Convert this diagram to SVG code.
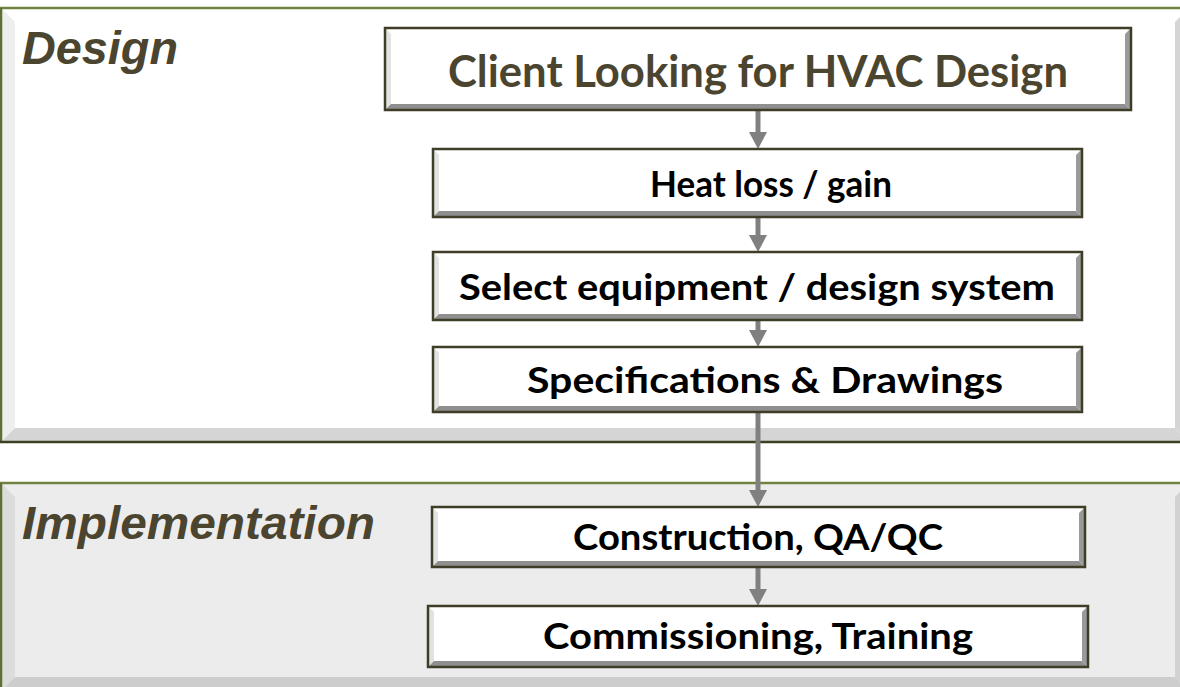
<svg xmlns="http://www.w3.org/2000/svg" width="1180" height="687" viewBox="0 0 1180 687">
  <defs>
    <style>
      .title { font-family: "Liberation Sans", Arial, sans-serif; font-weight: bold; font-style: italic; font-size: 47px; fill: #4b4530; }
      .label { font-family: Lato, "Open Sans", sans-serif; font-weight: bold; font-size: 36px; fill: #000; text-anchor: middle; }
      .label-main { font-family: Lato, "Open Sans", sans-serif; font-weight: bold; font-size: 43px; fill: #4b4530; text-anchor: middle; }
      .box-face { fill: #ffffff; }
      .box-left { fill: #e2e2e2; }
      .box-right { fill: #9a9a9a; }
      .box-bottom { fill: #8f8f8f; }
      .box-border { fill: none; stroke: #3f3c27; stroke-width: 2.5; }
      .conn { stroke: #808080; stroke-width: 5; fill: none; }
    </style>
    <marker id="arrow" markerUnits="userSpaceOnUse" markerWidth="18" markerHeight="18" viewBox="0 0 18 18" refX="0" refY="9" orient="auto">
      <path d="M0,0 L17,9 L0,18 z" fill="#808080"/>
    </marker>
  </defs>

  <rect width="1180" height="687" fill="#ffffff"/>

  <!-- Design phase panel -->
  <g id="panel-design">
    <rect x="1" y="8" width="1190" height="434" fill="#ffffff"/>
    <polygon points="1,8 15,22 15,428 1,442" fill="#eeeeee"/>
    <polygon points="1,442 15,428 1175,428 1189,442" fill="#d5d5d5"/>
    <polygon points="1189,8 1175,22 1175,428 1189,442" fill="#d5d5d5"/>
    <line x1="0" y1="8" x2="1180" y2="8" stroke="#6f8240" stroke-width="2.5"/>
    <line x1="1" y1="8" x2="1" y2="442" stroke="#5f7035" stroke-width="2.5"/>
    <line x1="0" y1="442" x2="1180" y2="442" stroke="#3a4122" stroke-width="2.5"/>
    <text class="title" x="22" y="64" textLength="156" lengthAdjust="spacingAndGlyphs">Design</text>
  </g>

  <!-- Implementation phase panel -->
  <g id="panel-implementation">
    <rect x="1" y="483" width="1190" height="210" fill="#ececec"/>
    <polygon points="1,483 15,497 15,677 1,691" fill="#dcdcdc"/>
    <polygon points="1,691 15,677 1175,677 1189,691" fill="#cdcdcd"/>
    <polygon points="1189,483 1175,497 1175,677 1189,691" fill="#d2d2d2"/>
    <line x1="0" y1="483" x2="1180" y2="483" stroke="#6f8240" stroke-width="2.5"/>
    <line x1="1" y1="483" x2="1" y2="687" stroke="#5f7035" stroke-width="2.5"/>
    <text class="title" x="22" y="539" textLength="353" lengthAdjust="spacingAndGlyphs">Implementation</text>
  </g>

  <!-- Connectors -->
  <g id="connectors">
    <line class="conn" x1="758" y1="111" x2="758" y2="132" marker-end="url(#arrow)"/>
    <line class="conn" x1="758" y1="218" x2="758" y2="235" marker-end="url(#arrow)"/>
    <line class="conn" x1="758" y1="321" x2="758" y2="330" marker-end="url(#arrow)"/>
    <line class="conn" x1="758" y1="413" x2="758" y2="490" marker-end="url(#arrow)"/>
    <line class="conn" x1="758" y1="568" x2="758" y2="589" marker-end="url(#arrow)"/>
  </g>

  <!-- Step 1 -->
  <g id="node-client">
    <rect class="box-face" x="385" y="28" width="746" height="82"/>
    <polygon class="box-left" points="385,28 391,34 391,104 385,110"/>
    <polygon class="box-right" points="1131,28 1125,34 1125,104 1131,110"/>
    <polygon class="box-bottom" points="385,110 391,104 1125,104 1131,110"/>
    <rect class="box-border" x="385" y="28" width="746" height="82"/>
    <text class="label-main" x="758" y="87" textLength="620" lengthAdjust="spacingAndGlyphs">Client Looking for HVAC Design</text>
  </g>

  <!-- Step 2 -->
  <g id="node-heat">
    <rect class="box-face" x="433" y="149" width="649" height="68"/>
    <polygon class="box-left" points="433,149 439,155 439,211 433,217"/>
    <polygon class="box-right" points="1082,149 1076,155 1076,211 1082,217"/>
    <polygon class="box-bottom" points="433,217 439,211 1076,211 1082,217"/>
    <rect class="box-border" x="433" y="149" width="649" height="68"/>
    <text class="label" x="771" y="197" textLength="242" lengthAdjust="spacingAndGlyphs">Heat loss / gain</text>
  </g>

  <!-- Step 3 -->
  <g id="node-select">
    <rect class="box-face" x="433" y="252" width="649" height="68"/>
    <polygon class="box-left" points="433,252 439,258 439,314 433,320"/>
    <polygon class="box-right" points="1082,252 1076,258 1076,314 1082,320"/>
    <polygon class="box-bottom" points="433,320 439,314 1076,314 1082,320"/>
    <rect class="box-border" x="433" y="252" width="649" height="68"/>
    <text class="label" x="757" y="300" textLength="596" lengthAdjust="spacingAndGlyphs">Select equipment / design system</text>
  </g>

  <!-- Step 4 -->
  <g id="node-specs">
    <rect class="box-face" x="433" y="347" width="649" height="65"/>
    <polygon class="box-left" points="433,347 439,353 439,406 433,412"/>
    <polygon class="box-right" points="1082,347 1076,353 1076,406 1082,412"/>
    <polygon class="box-bottom" points="433,412 439,406 1076,406 1082,412"/>
    <rect class="box-border" x="433" y="347" width="649" height="65"/>
    <text class="label" x="765" y="393" textLength="476" lengthAdjust="spacingAndGlyphs">Specifications &amp; Drawings</text>
  </g>

  <!-- Step 5 -->
  <g id="node-construction">
    <rect class="box-face" x="432" y="507" width="653" height="60"/>
    <polygon class="box-left" points="432,507 438,513 438,561 432,567"/>
    <polygon class="box-right" points="1085,507 1079,513 1079,561 1085,567"/>
    <polygon class="box-bottom" points="432,567 438,561 1079,561 1085,567"/>
    <rect class="box-border" x="432" y="507" width="653" height="60"/>
    <text class="label" x="758" y="550" textLength="370" lengthAdjust="spacingAndGlyphs">Construction, QA/QC</text>
  </g>

  <!-- Step 6 -->
  <g id="node-commissioning">
    <rect class="box-face" x="428" y="606" width="660" height="61"/>
    <polygon class="box-left" points="428,606 434,612 434,661 428,667"/>
    <polygon class="box-right" points="1088,606 1082,612 1082,661 1088,667"/>
    <polygon class="box-bottom" points="428,667 434,661 1082,661 1088,667"/>
    <rect class="box-border" x="428" y="606" width="660" height="61"/>
    <text class="label" x="758" y="649" textLength="430" lengthAdjust="spacingAndGlyphs">Commissioning, Training</text>
  </g>
</svg>
